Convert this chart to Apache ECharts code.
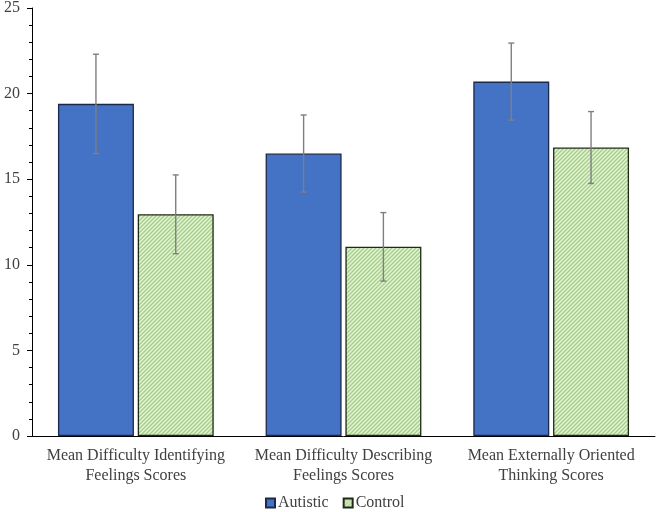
<!DOCTYPE html>
<html>
<head>
<meta charset="utf-8">
<script src="https://cdn.jsdelivr.net/npm/echarts@6/dist/echarts.min.js"></script>
<style>
html,body{margin:0;padding:0;background:#fff;}
#chart{width:658px;height:512px;}
</style>
</head>
<body>
<div id="chart"></div>
<script>
var categories = ['Mean Difficulty Identifying\nFeelings Scores', 'Mean Difficulty Describing\nFeelings Scores', 'Mean Externally Oriented\nThinking Scores'];
var seriesNames = ['Autistic', 'Control'];
var autisticMeans = [19.4, 16.5, 20.7];
var autisticErr = [2.9, 2.25, 2.25];
var controlMeans = [12.95, 11.05, 16.85];
var controlErr = [2.3, 2.0, 2.1];
var yTicks = [0, 5, 10, 15, 20, 25];

var FONT = '"Liberation Serif", "Times New Roman", serif';

// hatch pattern for Control bars
var pc = document.createElement('canvas');
pc.width = 4; pc.height = 4;
var ctx = pc.getContext('2d');
ctx.fillStyle = '#e6f3da';
ctx.fillRect(0, 0, 4, 4);
ctx.strokeStyle = '#a6cf86';
ctx.lineWidth = 1.4;
ctx.beginPath();
ctx.moveTo(-1, 5); ctx.lineTo(5, -1);
ctx.moveTo(-1, 1); ctx.lineTo(1, -1);
ctx.moveTo(3, 5); ctx.lineTo(5, 3);
ctx.stroke();

var CAT_GAP = 0.25, BAR_GAP = 0.05;
function barOffsetFrac(seriesIdx) {
  var avail = 1 - CAT_GAP;
  var bw = avail / (2 + BAR_GAP);
  var off = (avail - bw) / 2;
  return seriesIdx === 0 ? -off : off;
}

function errData(means, errs) {
  return means.map(function (m, i) { return [i, m - errs[i], m + errs[i]]; });
}

function errSeries(si, means, errs) {
  return {
    type: 'custom',
    name: 'err' + si,
    silent: true,
    z: 10,
    data: errData(means, errs),
    renderItem: function (params, api) {
      var idx = api.value(0);
      var band = api.size([1, 0])[0];
      var x = api.coord([idx, 0])[0] + barOffsetFrac(si) * band;
      var yLo = api.coord([idx, api.value(1)])[1];
      var yHi = api.coord([idx, api.value(2)])[1];
      var cap = 3;
      var st = { stroke: '#7f7f7f', lineWidth: 1.4 };
      return {
        type: 'group',
        children: [
          { type: 'line', shape: { x1: x, y1: yLo, x2: x, y2: yHi }, style: st },
          { type: 'line', shape: { x1: x - cap, y1: yHi, x2: x + cap, y2: yHi }, style: st },
          { type: 'line', shape: { x1: x - cap, y1: yLo, x2: x + cap, y2: yLo }, style: st }
        ]
      };
    }
  };
}

var chart = echarts.init(document.getElementById('chart'));
chart.setOption({
  animation: false,
  backgroundColor: '#fff',
  textStyle: { fontFamily: FONT },
  grid: { left: 32, right: 3, top: 8, bottom: 76, containLabel: false },
  legend: {
    data: seriesNames,
    bottom: -4,
    left: 260,
    icon: 'rect',
    itemWidth: 9,
    itemHeight: 9,
    itemGap: 14,
    textStyle: { fontFamily: FONT, fontSize: 16, color: '#404040', padding: [0, 0, 0, -2] }
  },
  xAxis: {
    type: 'category',
    data: categories,
    axisLine: { lineStyle: { color: '#000', width: 1 } },
    axisTick: { show: false },
    axisLabel: { fontFamily: FONT, fontSize: 16, color: '#404040', lineHeight: 20, margin: 10, interval: 0 }
  },
  yAxis: {
    type: 'value',
    min: yTicks[0],
    max: yTicks[yTicks.length - 1],
    interval: 5,
    axisLine: { show: true, lineStyle: { color: '#000', width: 1 } },
    axisTick: { show: true, inside: false, length: 5, lineStyle: { color: '#000' } },
    minorTick: { show: true, splitNumber: 5, length: 3, lineStyle: { color: '#000' } },
    splitLine: { show: false },
    axisLabel: { fontFamily: FONT, fontSize: 16, color: '#404040', margin: 12 }
  },
  series: [
    {
      name: seriesNames[0],
      type: 'bar',
      data: autisticMeans,
      barCategoryGap: (CAT_GAP * 100) + '%',
      barGap: (BAR_GAP * 100) + '%',
      itemStyle: { color: '#4472c4', borderColor: '#1b2a4a', borderWidth: 1.3 }
    },
    {
      name: seriesNames[1],
      type: 'bar',
      data: controlMeans,
      barCategoryGap: (CAT_GAP * 100) + '%',
      barGap: (BAR_GAP * 100) + '%',
      itemStyle: { color: { image: pc, repeat: 'repeat' }, borderColor: '#1e2a14', borderWidth: 1.3 }
    },
    errSeries(0, autisticMeans, autisticErr),
    errSeries(1, controlMeans, controlErr)
  ]
});
</script>
</body>
</html>
